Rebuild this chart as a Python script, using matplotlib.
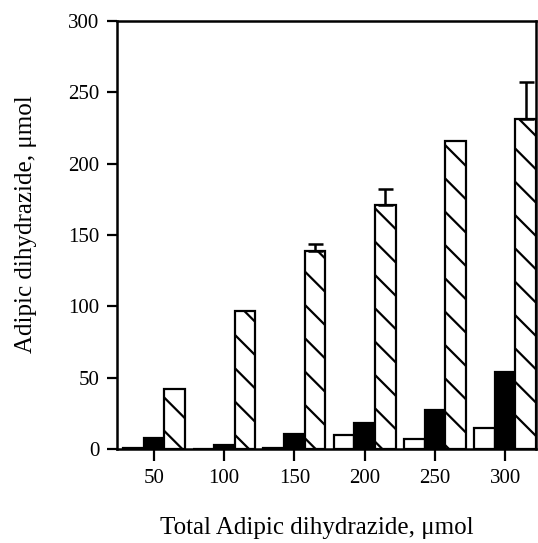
import matplotlib
matplotlib.use("Agg")
import matplotlib.pyplot as plt
import numpy as np

categories = ["50", "100", "150", "200", "250", "300"]
white_vals = [1, 0, 1, 10, 7, 14.5]
black_vals = [8, 3, 10.5, 18, 27, 54]
hatched_vals = [42, 96.5, 139, 171, 216, 231]
hatched_err = [0, 0, 5, 11.5, 0, 26]
y_ticks = [0, 50, 100, 150, 200, 250, 300]

plt.rcParams['font.family'] = ['Liberation Serif', 'DejaVu Serif']
plt.rcParams['hatch.linewidth'] = 1.6

W, H = 538, 543
fig = plt.figure(figsize=(W / 100, H / 100), dpi=100)
ax = fig.add_axes([117 / W, 1 - 449 / H, (536 - 117) / W, (449 - 21) / H])

x = np.arange(len(categories))
bw = 0.295
kw = dict(edgecolor='black', linewidth=1.6, zorder=2)
ax.bar(x - bw, white_vals, bw, color='white', **kw)
ax.bar(x, black_vals, bw, color='black', **kw)
ax.bar(x + bw, hatched_vals, bw, color='white', hatch='\\', **kw)

idx = [i for i, e in enumerate(hatched_err) if e > 0]
ax.errorbar(x[idx] + bw, [hatched_vals[i] for i in idx],
            yerr=[[0] * len(idx), [hatched_err[i] for i in idx]],
            fmt='none', ecolor='black', elinewidth=1.8, capsize=5.4,
            capthick=1.8, zorder=3)

ax.set_xlim(-0.526, 5.44)
ax.set_ylim(0, 300)
ax.set_xticks(x)
ax.set_xticklabels(categories)
ax.set_yticks(y_ticks)
ax.tick_params(axis='both', labelsize=15, width=1.6, direction='out')
ax.tick_params(axis='y', length=7.5, pad=5)
ax.tick_params(axis='x', length=8.5, pad=6)
for s in ax.spines.values():
    s.set_linewidth(1.8)

fig.text(316.5 / W, 1 - 528 / H, "Total Adipic dihydrazide, μmol",
         ha='center', va='center', fontsize=18)
fig.text(26 / W, 1 - 224.5 / H, "Adipic dihydrazide, μmol",
         ha='center', va='center', rotation=90, fontsize=18)

fig.savefig("out.png", dpi=100)
